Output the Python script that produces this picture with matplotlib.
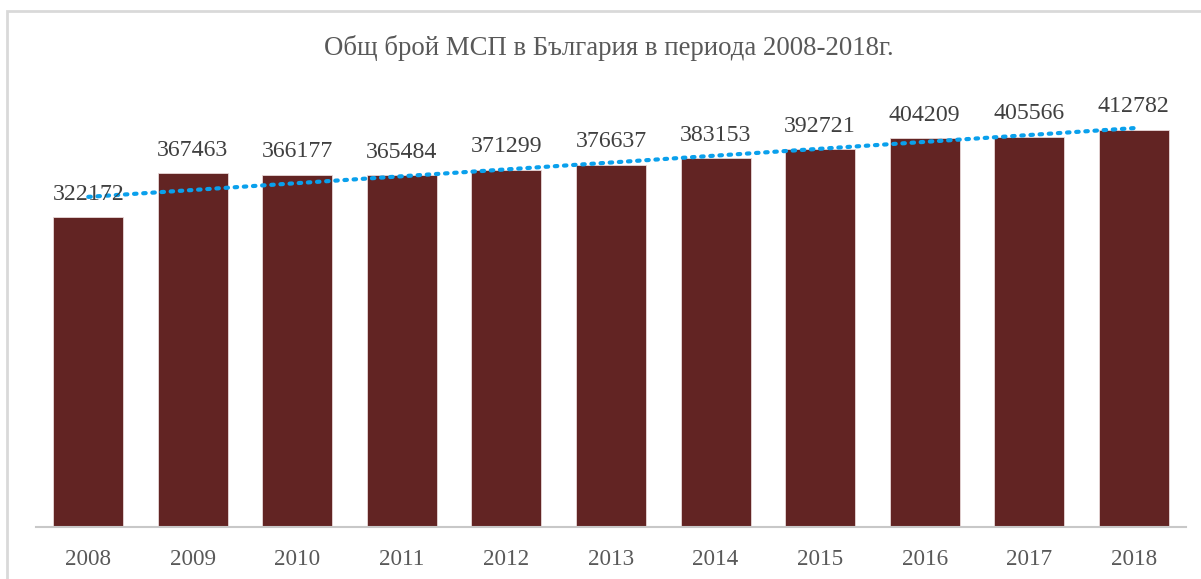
import numpy as np
import matplotlib
matplotlib.use("Agg")
import matplotlib.pyplot as plt
from matplotlib.patches import Rectangle

# Данни: общ брой МСП по години
years = ["2008", "2009", "2010", "2011", "2012", "2013", "2014", "2015", "2016", "2017", "2018"]
sme_counts = [322172, 367463, 366177, 365484, 371299, 376637, 383153, 392721, 404209, 405566, 412782]

title = "Общ брой МСП в България в периода 2008-2018г."

plt.rcParams["font.family"] = ["Liberation Serif", "DejaVu Serif"]

fig = plt.figure(figsize=(12.01, 5.79), dpi=100)
ax = fig.add_axes([0.030, 0.0898, 0.9575, 0.7477])

x = np.arange(len(years))
bars = ax.bar(x, sme_counts, width=0.67, color="#622423", edgecolor="#e8d8d8", linewidth=0.6, zorder=2)

# Линеен тренд
coef = np.polyfit(x, sme_counts, 1)
trend = np.polyval(coef, x)
ax.plot(x, trend, linestyle=(0, (0.6, 1.6)), dash_capstyle="round", color="#0aa0ec", linewidth=3.0, zorder=3)

for bar, val in zip(bars, sme_counts):
    ax.annotate(f"{val}", (bar.get_x() + bar.get_width() / 2, val), xytext=(0, 9),
                textcoords="offset points", ha="center", va="bottom", fontsize=17.2, color="#404040", zorder=4)

ax.set_xlim(-0.5, len(years) - 0.5)
ax.set_ylim(0, 450000)
ax.set_xticks(x)
ax.set_xticklabels(years, fontsize=16.7, color="#595959")
ax.tick_params(axis="x", length=0, pad=16)
ax.set_yticks([])
for side in ["top", "right", "left"]:
    ax.spines[side].set_visible(False)
ax.spines["bottom"].set_color("#c8c8c8")
ax.spines["bottom"].set_linewidth(1.5)

fig.text(0.507, 1 - 48 / 579, title, ha="center", va="center", fontsize=19.3, color="#595959")

# Рамка на диаграмата
fig.patches.append(Rectangle((7 / 1201, -0.1), 1.2, 1 - 11 / 579 + 0.1, transform=fig.transFigure,
                             fill=False, edgecolor="#d9d9d9", linewidth=2))

fig.savefig("out.png", dpi=100)
